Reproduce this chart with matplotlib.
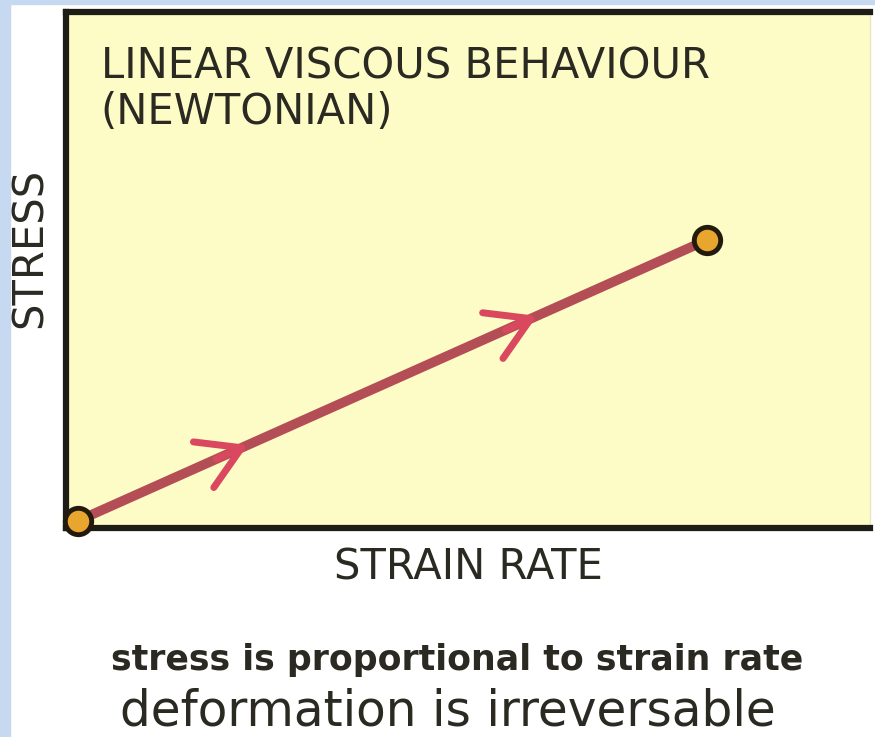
import matplotlib.pyplot as plt
from matplotlib.patches import Rectangle

# data: stress vs strain rate (arbitrary units)
strain_rate = [0.15, 7.97]
stress = [0.14, 5.58]
arrow_pos = [0.27, 0.73]   # fraction along the line where direction arrows sit

title = "LINEAR VISCOUS BEHAVIOUR\n(NEWTONIAN)"
xlabel = "STRAIN RATE"
ylabel = "STRESS"
notes = ["stress is proportional to strain rate", "deformation is irreversable"]

plt.rcParams['font.family'] = ['DejaVu Sans']

fig = plt.figure(figsize=(8.75, 7.37), dpi=100)
fig.patch.set_facecolor('white')
# light blue frame strips on the left and top
fig.add_artist(Rectangle((0, 0), 10 / 875, 1, transform=fig.transFigure, color='#c6d9f1', zorder=0))
fig.add_artist(Rectangle((0, 1 - 4 / 737), 1, 4 / 737, transform=fig.transFigure, color='#c6d9f1', zorder=0))

ax = fig.add_axes([66 / 875, 1 - 528 / 737, 804 / 875, 516 / 737])
ax.set_facecolor('#fefcc6')
ax.set_xlim(0, 10)
ax.set_ylim(0, 10)
ax.set_xticks([])
ax.set_yticks([])
for side in ['left', 'bottom', 'top']:
    ax.spines[side].set_linewidth(4.5)
    ax.spines[side].set_color('#1e1c16')
ax.spines['right'].set_linewidth(1)
ax.spines['right'].set_color('#e8e6c0')

line_col = '#b44e56'
ax.plot(strain_rate, stress, color=line_col, lw=7, solid_capstyle='butt', zorder=3)

# direction chevrons
dx = strain_rate[1] - strain_rate[0]
dy = stress[1] - stress[0]
for t in arrow_pos:
    x1 = strain_rate[0] + t * dx
    y1 = stress[0] + t * dy
    x0 = x1 - 0.05 * dx
    y0 = y1 - 0.05 * dy
    ax.annotate('', xy=(x1, y1), xytext=(x0, y0),
                arrowprops=dict(arrowstyle='->,head_length=3,head_width=1.8',
                                color='#d9485f', lw=5, shrinkA=0, shrinkB=0,
                                capstyle='round'),
                zorder=4)

ax.plot(strain_rate, stress, 'o', ms=19, mfc='#e9a62e', mec='#221a0c', mew=3.5,
        clip_on=False, zorder=5)

txt_col = '#2b2a22'
ax.text(0.043, 0.935, title, transform=ax.transAxes, ha='left', va='top',
        fontsize=30, color=txt_col, linespacing=1.1)
fig.text(468 / 875, 1 - 568 / 737, xlabel, ha='center', va='center', fontsize=30, color=txt_col)
fig.text(30 / 875, 1 - 248 / 737, ylabel, ha='center', va='center', rotation=90,
         fontsize=30, color=txt_col)
fig.text(457 / 875, 1 - 660 / 737, notes[0], ha='center', va='center', fontsize=25,
         color=txt_col, fontweight='semibold')
fig.text(448 / 875, 1 - 712 / 737, notes[1], ha='center', va='center', fontsize=35,
         color=txt_col)

fig.savefig('out.png', dpi=100)
